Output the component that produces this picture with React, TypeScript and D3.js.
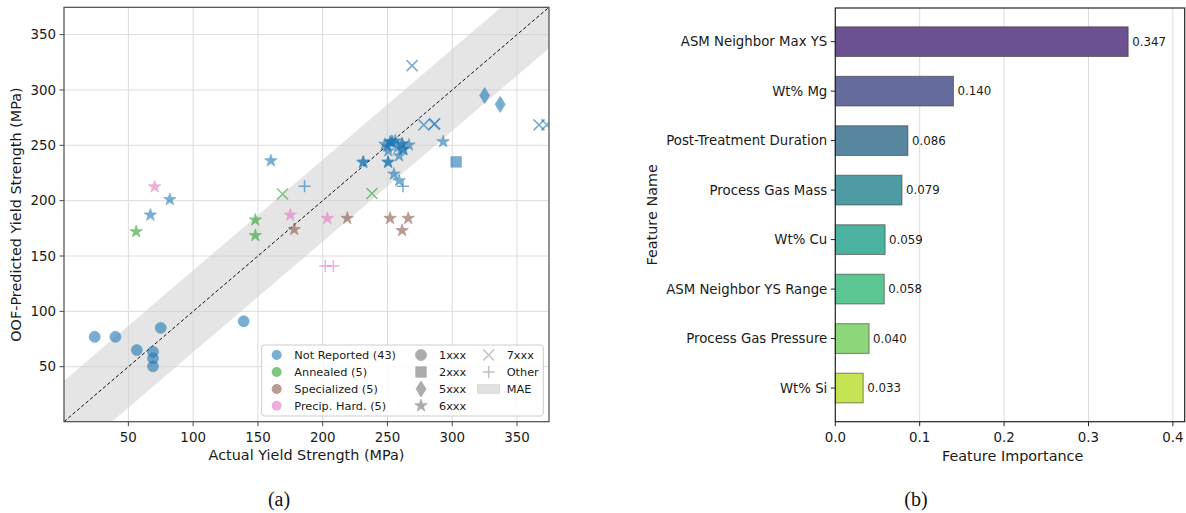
import * as d3 from "d3";

// ---- scatter data: [actual MPa, OOF predicted MPa, series] ----
type Pt = [number, number, string];

const notReported: Pt[] = [
  [24, 77, "1xxx"], [40, 77, "1xxx"], [56.5, 65, "1xxx"], [69, 63.5, "1xxx"],
  [69, 57.5, "1xxx"], [69, 50.3, "1xxx"], [75, 85, "1xxx"], [139, 91, "1xxx"],
  [303, 235, "2xxx"],
  [325, 295, "5xxx"], [337, 287, "5xxx"],
  [269, 322, "7xxx"], [278, 268.5, "7xxx"], [286, 269, "7xxx"], [286.5, 269.5, "7xxx"],
  [367, 268.5, "7xxx"], [373, 268.5, "7xxx"],
  [186, 213, "Other"], [262, 213, "Other"],
  [160, 236, "6xxx"], [82, 201, "6xxx"], [67, 187, "6xxx"],
  [231, 234.5, "6xxx"], [231.5, 235, "6xxx"], [250.5, 234.5, "6xxx"], [250.5, 235, "6xxx"],
  [255, 224, "6xxx"], [259, 218, "6xxx"], [259, 240.5, "6xxx"], [250.7, 245, "6xxx"],
  [248, 251, "6xxx"], [252, 253, "6xxx"], [253, 253.5, "6xxx"], [254, 253, "6xxx"],
  [256, 254, "6xxx"], [261, 251, "6xxx"], [261.5, 251.5, "6xxx"], [262, 246, "6xxx"],
  [262.5, 246.5, "6xxx"], [258, 248, "6xxx"], [266.6, 250.3, "6xxx"], [293, 253.3, "6xxx"],
  [250, 249, "6xxx"],
];
const annealed: Pt[] = [
  [56, 172, "6xxx"], [148, 182.5, "6xxx"], [148, 168.5, "6xxx"], [169, 206, "7xxx"], [238, 206.5, "7xxx"],
];
const specialized: Pt[] = [
  [178, 174, "6xxx"], [219, 184, "6xxx"], [252, 184, "6xxx"], [266, 184, "6xxx"], [261.3, 173, "6xxx"],
];
const precipHard: Pt[] = [
  [70.3, 212.5, "6xxx"], [175, 187, "6xxx"], [203.6, 184, "6xxx"], [202, 141, "Other"], [208.2, 141, "Other"],
];

const treatments = ["Not Reported", "Annealed", "Specialized", "Precip. Hard."];
const treatmentColors = ["#1f77b4", "#2ca02c", "#8c564b", "#e377c2"];
const treatmentPoints = [notReported, annealed, specialized, precipHard];
const seriesNames = ["1xxx", "2xxx", "5xxx", "6xxx", "7xxx", "Other"];
const MAE = 37;
const scatterTicks = [50, 100, 150, 200, 250, 300, 350];

// ---- feature importance ----
const features = [
  "ASM Neighbor Max YS", "Wt% Mg", "Post-Treatment Duration", "Process Gas Mass",
  "Wt% Cu", "ASM Neighbor YS Range", "Process Gas Pressure", "Wt% Si",
];
const importance = [0.347, 0.14, 0.086, 0.079, 0.059, 0.058, 0.04, 0.033];
const barColors = ["#6b518f", "#656b9d", "#5885a0", "#4f9ba3", "#4cb2a0", "#5cc692", "#8dd77a", "#c5e352"];
const importanceTicks = [0, 0.1, 0.2, 0.3, 0.4];

const FONT = "DejaVu Sans, sans-serif";
const TXT = "#1a1a1a";

function markerPath(shape: string): string {
  switch (shape) {
    case "1xxx":
      return d3.symbol(d3.symbolCircle, Math.PI * 5.5 * 5.5)()!;
    case "2xxx":
      return d3.symbol(d3.symbolSquare, 110)()!;
    case "5xxx":
      return "M0,-8L5,0L0,8L-5,0Z";
    case "6xxx":
      return d3.symbol(d3.symbolStar, 48)()!;
    case "7xxx":
      return "M-5.5,-5.5L5.5,5.5M-5.5,5.5L5.5,-5.5";
    default:
      return "M-6,0H6M0,-6V6";
  }
}
const isStroke = (s: string) => s === "7xxx" || s === "Other";

function Marker({ shape, color, x, y, opacity = 0.6 }: { shape: string; color: string; x: number; y: number; opacity?: number }) {
  const stroke = isStroke(shape);
  return (
    <path
      d={markerPath(shape)}
      transform={`translate(${x},${y})`}
      fill={stroke ? "none" : color}
      stroke={color}
      strokeWidth={stroke ? 1.5 : 0.8}
      opacity={opacity}
    />
  );
}

function Scatter() {
  const [d0, d1] = [0.3, 374.7];
  const x = d3.scaleLinear().domain([d0, d1]).range([64, 549]);
  const y = d3.scaleLinear().domain([d0, d1]).range([421.7, 7.3]);
  const [l, r] = x.range();
  const [b, t] = y.range();

  const band = d3.area<number>()
    .x((v) => x(v))
    .y0((v) => y(v - MAE))
    .y1((v) => y(v + MAE));

  const lx = 261.7, ly = 345;
  const rows = [355, 372, 389, 405.7];

  return (
    <g fontFamily={FONT} fill={TXT}>
      <defs>
        <clipPath id="scClip">
          <rect x={l} y={t} width={r - l} height={b - t} />
        </clipPath>
      </defs>
      {scatterTicks.map((v) => (
        <g key={v}>
          <line x1={x(v)} x2={x(v)} y1={t} y2={b} stroke="#dcdcdc" strokeWidth={1} />
          <line x1={l} x2={r} y1={y(v)} y2={y(v)} stroke="#dcdcdc" strokeWidth={1} />
        </g>
      ))}
      <g clipPath="url(#scClip)">
        <path d={band([d0 - 50, d1 + 50])!} fill="#cfcfcf" opacity={0.55} />
        <line x1={x(d0)} y1={y(d0)} x2={x(d1)} y2={y(d1)} stroke="#111" strokeWidth={1} strokeDasharray="3.5,2.2" />
        {treatmentPoints.map((pts, i) =>
          pts.map((p, j) => (
            <Marker key={`${i}-${j}`} shape={p[2]} color={treatmentColors[i]} x={x(p[0])} y={y(p[1])} />
          ))
        )}
      </g>
      <rect x={l} y={t} width={r - l} height={b - t} fill="none" stroke="#4a4a4a" strokeWidth={1.2} />
      {scatterTicks.map((v) => (
        <g key={v} fontSize={13.4}>
          <line x1={x(v)} x2={x(v)} y1={b} y2={b + 4.5} stroke="#4a4a4a" strokeWidth={1} />
          <text x={x(v)} y={b + 20} textAnchor="middle">{v}</text>
          <line x1={l - 4.5} x2={l} y1={y(v)} y2={y(v)} stroke="#4a4a4a" strokeWidth={1} />
          <text x={l - 8} y={y(v) + 4.8} textAnchor="end">{v}</text>
        </g>
      ))}
      <text x={(l + r) / 2} y={460} textAnchor="middle" fontSize={14.4}>Actual Yield Strength (MPa)</text>
      <text transform={`translate(21,${(t + b) / 2}) rotate(-90)`} textAnchor="middle" fontSize={14.4}>
        OOF-Predicted Yield Strength (MPa)
      </text>

      {/* legend */}
      <rect x={lx} y={ly} width={281.6} height={71} rx={3} fill="#fff" fillOpacity={0.85} stroke="#cccccc" />
      <g fontSize={11.3}>
        {treatments.map((name, i) => (
          <g key={name}>
            <circle cx={276.7} cy={rows[i]} r={5} fill={treatmentColors[i]} opacity={0.6} />
            <text x={294.3} y={rows[i] + 4}>{`${name} (${treatmentPoints[i].length})`}</text>
          </g>
        ))}
        {seriesNames.slice(0, 4).map((s, i) => (
          <g key={s}>
            <Marker shape={s} color="#808080" x={421} y={rows[i]} opacity={0.65} />
            <text x={439} y={rows[i] + 4}>{s}</text>
          </g>
        ))}
        {seriesNames.slice(4).map((s, i) => (
          <g key={s}>
            <Marker shape={s} color="#a0a0a0" x={488.7} y={rows[i]} opacity={0.65} />
            <text x={506.7} y={rows[i] + 4}>{s}</text>
          </g>
        ))}
        <rect x={477.7} y={rows[2] - 4.2} width={22} height={8.4} fill="#e2e2e2" stroke="#d0d0d0" strokeWidth={0.8} />
        <text x={506.7} y={rows[2] + 4}>MAE</text>
      </g>
    </g>
  );
}

function Importance() {
  const x = d3.scaleLinear().domain([0, 0.414]).range([835.3, 1184.7]);
  const y = d3.scaleLinear().domain([-0.68, features.length - 0.32]).range([8, 421.7]);
  const [l, r] = x.range();
  const [t, b] = y.range();
  const bh = (y(1) - y(0)) * 0.6;

  return (
    <g fontFamily={FONT} fill={TXT}>
      {importanceTicks.slice(1).map((v) => (
        <line key={v} x1={x(v)} x2={x(v)} y1={t} y2={b} stroke="#dcdcdc" strokeWidth={1} />
      ))}
      {features.map((f, i) => (
        <g key={f}>
          <rect
            x={x(0)}
            y={y(i) - bh / 2}
            width={x(importance[i]) - x(0)}
            height={bh}
            fill={barColors[i]}
            stroke="#3a3a3a"
            strokeOpacity={0.6}
            strokeWidth={1}
          />
          <text x={x(importance[i]) + 4} y={y(i) + 4} fontSize={11.8}>{importance[i].toFixed(3)}</text>
          <line x1={l - 4.5} x2={l} y1={y(i)} y2={y(i)} stroke="#222" strokeWidth={1} />
          <text x={l - 8} y={y(i) + 4.8} textAnchor="end" fontSize={13.3}>{f}</text>
        </g>
      ))}
      <rect x={l} y={t} width={r - l} height={b - t} fill="none" stroke="#222" strokeWidth={1.2} />
      {importanceTicks.map((v) => (
        <g key={v}>
          <line x1={x(v)} x2={x(v)} y1={b} y2={b + 4.5} stroke="#222" strokeWidth={1} />
          <text x={x(v)} y={b + 20} textAnchor="middle" fontSize={13.4}>{v.toFixed(1)}</text>
        </g>
      ))}
      <text x={(l + 1186) / 2 + 2} y={461} textAnchor="middle" fontSize={14.4}>Feature Importance</text>
      <text transform={`translate(657,${(t + b) / 2}) rotate(-90)`} textAnchor="middle" fontSize={14.4}>Feature Name</text>
    </g>
  );
}

export default function App() {
  return (
    <svg
      width={1186}
      height={513}
      viewBox="0 0 1186 513"
      style={{ position: "absolute", left: 0, top: 0, background: "#fff" }}
    >
      <rect width={1186} height={513} fill="#fff" />
      <Scatter />
      <Importance />
      <g fontFamily="Liberation Serif, DejaVu Serif, serif" fontSize={20} fill="#111" textAnchor="middle">
        <text x={279} y={506}>(a)</text>
        <text x={916} y={506}>(b)</text>
      </g>
    </svg>
  );
}
